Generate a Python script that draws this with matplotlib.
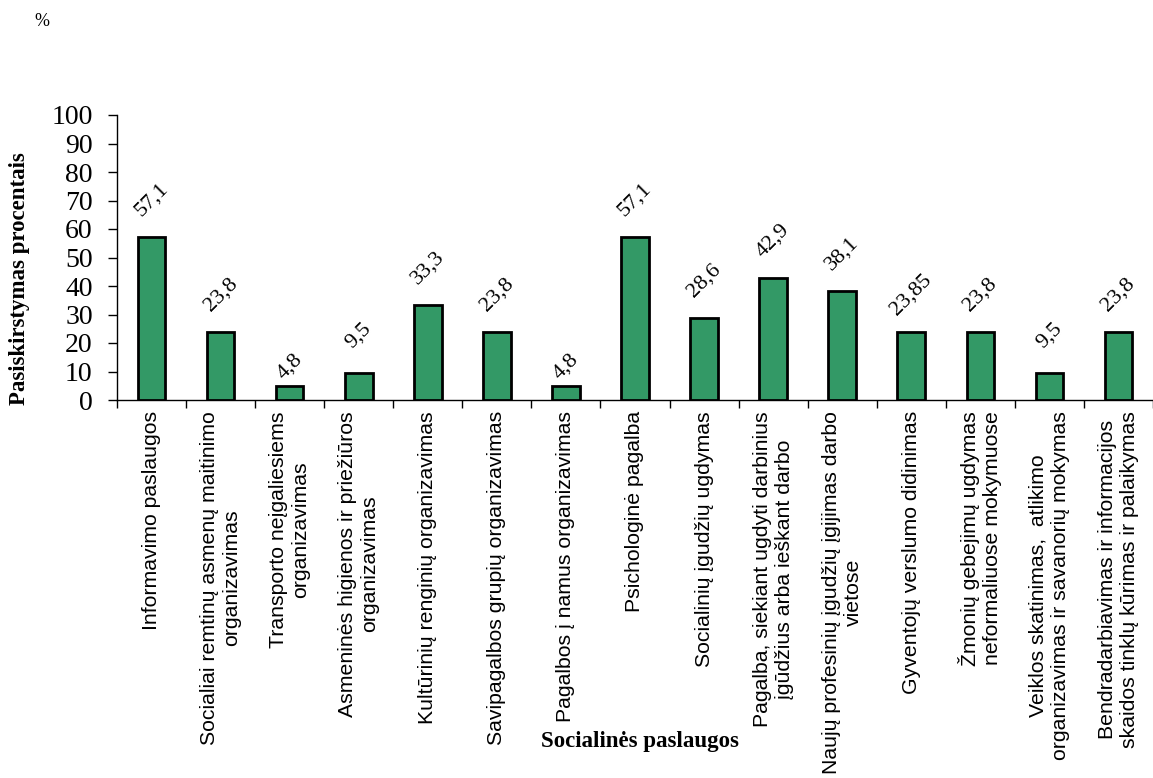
import numpy as np
import matplotlib.pyplot as plt

# duomenys
paslaugos = [
    "Informavimo paslaugos",
    "Socialiai remtinų asmenų maitinimo\norganizavimas",
    "Transporto neįgaliesiems\norganizavimas",
    "Asmeninės higienos ir priežiūros\norganizavimas",
    "Kultūrinių renginių organizavimas",
    "Savipagalbos grupių organizavimas",
    "Pagalbos į namus organizavimas",
    "Psichologinė pagalba",
    "Socialinių įgudžių ugdymas",
    "Pagalba, siekiant ugdyti darbinius\nįgūdžius arba ieškant darbo",
    "Naujų profesinių įgudžių įgijimas darbo\nvietose",
    "Gyventojų verslumo didinimas",
    "Žmonių gebejimų ugdymas\nneformaliuose mokymuose",
    "Veiklos skatinimas,  atlikimo\norganizavimas ir savanorių mokymas",
    "Bendradarbiavimas ir informacijos\nskaidos tinklų kūrimas ir palaikymas",
]
reiksmes = [57.1, 23.8, 4.8, 9.5, 33.3, 23.8, 4.8, 57.1, 28.6, 42.9, 38.1, 23.85, 23.8, 9.5, 23.8]
etiketes = ["57,1", "23,8", "4,8", "9,5", "33,3", "23,8", "4,8", "57,1", "28,6", "42,9",
            "38,1", "23,85", "23,8", "9,5", "23,8"]

serif = ["Liberation Serif", "DejaVu Serif"]
sans = ["Liberation Sans", "DejaVu Sans"]

fig = plt.figure(figsize=(11.53, 7.78), dpi=100)
ax = fig.add_axes([117/1153, 1 - 400/778, 1 - 117/1153, 285/778])

x = np.arange(len(reiksmes))
ax.bar(x, reiksmes, width=0.4, color="#339966", edgecolor="black", linewidth=2, zorder=3)

# reiksmiu etiketes virs stulpeliu
for xi, v, t in zip(x, reiksmes, etiketes):
    dy = 14 if v < 5 else 27
    ax.annotate(t, (xi, v), xytext=(0, dy), textcoords="offset points",
                rotation=45, ha="center", va="center", fontsize=16, family=serif)

ax.set_ylim(0, 100)
ax.set_xlim(-0.5, 14.34)
ax.set_yticks(range(0, 101, 10))
ax.set_yticklabels([str(v) for v in range(0, 101, 10)], fontsize=20, family=serif)
ax.tick_params(axis="y", direction="out", length=6.5, width=1, pad=11)

ax.set_xticks(np.arange(-0.5, 15, 1))
ax.set_xticklabels([])
ax.tick_params(axis="x", direction="out", length=6, width=1)
ax.set_xticks(x, minor=True)
ax.set_xticklabels(paslaugos, minor=True, rotation=90, fontsize=15.3, family=sans,
                   ha="center", va="top", multialignment="center", linespacing=1.2)
ax.tick_params(axis="x", which="minor", length=0, pad=8)

for s in ["top", "right"]:
    ax.spines[s].set_visible(False)
ax.spines["left"].set_linewidth(1)
ax.spines["bottom"].set_linewidth(1)

fig.text(20/1153, 1 - 279/778, "Pasiskirstymas procentais", fontsize=16.5, fontweight="bold",
         family=serif, rotation=90, ha="center", va="center")
fig.text(640/1153, 1 - 742/778, "Socialinės paslaugos", fontsize=16.5, fontweight="bold",
         family=serif, ha="center", va="center")
fig.text(42/1153, 1 - 22/778, "%", fontsize=13, family=serif, ha="center", va="center")

fig.savefig("out.png", dpi=100)
